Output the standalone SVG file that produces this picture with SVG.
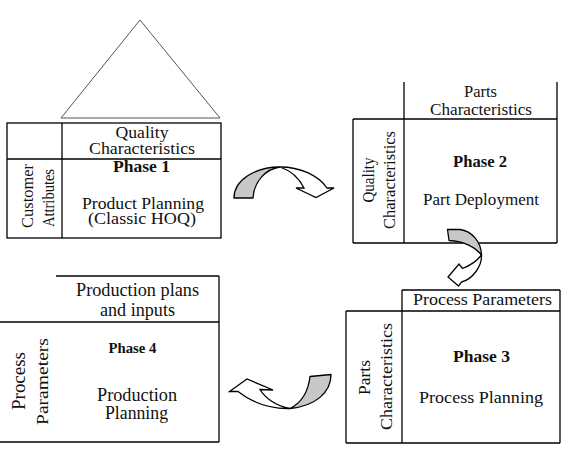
<svg xmlns="http://www.w3.org/2000/svg" width="563" height="450" viewBox="0 0 563 450">
<style>
.ln{stroke:#000;stroke-width:1.3;fill:none}
.t{font-family:"Liberation Serif","Times New Roman",serif;fill:#111;text-anchor:middle}
.b{font-weight:bold}
.back{fill:#c8c8c8;stroke:#000;stroke-width:1.3;stroke-linejoin:round}
.front{fill:#fff;stroke:#000;stroke-width:1.3;stroke-linejoin:miter}
</style>
<rect width="563" height="450" fill="#fff"/>
<g id="roof">
<polygon points="140,20 61,118 220,118" fill="none" stroke="#555" stroke-width="1"/>
</g>
<g id="phase1">
<rect x="7" y="123" width="214" height="115" class="ln"/>
<line x1="62" y1="123" x2="62" y2="238" class="ln"/>
<line x1="7" y1="159" x2="221" y2="159" class="ln"/>
<text class="t" x="142" y="137.5" font-size="16" textLength="53" lengthAdjust="spacingAndGlyphs">Quality</text>
<text class="t" x="142" y="154" font-size="16" textLength="106" lengthAdjust="spacingAndGlyphs">Characteristics</text>
<text class="t b" x="141.5" y="172" font-size="16" textLength="57" lengthAdjust="spacingAndGlyphs">Phase 1</text>
<text class="t" x="143" y="209" font-size="16" textLength="122" lengthAdjust="spacingAndGlyphs">Product Planning</text>
<text class="t" x="142" y="224" font-size="16" textLength="108" lengthAdjust="spacingAndGlyphs">(Classic HOQ)</text>
<text class="t" transform="translate(33,196) rotate(-90)" font-size="17" textLength="64" lengthAdjust="spacingAndGlyphs">Customer</text>
<text class="t" transform="translate(54,198) rotate(-90)" font-size="16" textLength="58" lengthAdjust="spacingAndGlyphs">Attributes</text>
</g>
<g id="phase2">
<line x1="404" y1="82" x2="404" y2="243" class="ln"/>
<line x1="557" y1="82" x2="557" y2="243" class="ln"/>
<line x1="353" y1="119" x2="557" y2="119" class="ln"/>
<line x1="353" y1="243" x2="557" y2="243" class="ln"/>
<line x1="353" y1="119" x2="353" y2="243" class="ln"/>
<text class="t" x="480.5" y="97" font-size="17" textLength="33" lengthAdjust="spacingAndGlyphs">Parts</text>
<text class="t" x="481" y="115" font-size="17" textLength="102" lengthAdjust="spacingAndGlyphs">Characteristics</text>
<text class="t b" x="480" y="167" font-size="16" textLength="54" lengthAdjust="spacingAndGlyphs">Phase 2</text>
<text class="t" x="481" y="205" font-size="16.5" textLength="116" lengthAdjust="spacingAndGlyphs">Part Deployment</text>
<text class="t" transform="translate(374,180) rotate(-90)" font-size="16" textLength="45" lengthAdjust="spacingAndGlyphs">Quality</text>
<text class="t" transform="translate(395,180) rotate(-90)" font-size="16" textLength="98" lengthAdjust="spacingAndGlyphs">Characteristics</text>
</g>
<g id="phase3">
<line x1="402" y1="290" x2="560" y2="290" class="ln"/>
<line x1="560" y1="290" x2="560" y2="443" class="ln"/>
<line x1="346" y1="311" x2="560" y2="311" class="ln"/>
<line x1="346" y1="311" x2="346" y2="443" class="ln"/>
<line x1="346" y1="443" x2="560" y2="443" class="ln"/>
<line x1="402" y1="290" x2="402" y2="443" class="ln"/>
<text class="t" x="482.5" y="305" font-size="17" textLength="139" lengthAdjust="spacingAndGlyphs">Process Parameters</text>
<text class="t b" x="481.5" y="362" font-size="16" textLength="57" lengthAdjust="spacingAndGlyphs">Phase 3</text>
<text class="t" x="481" y="403" font-size="17.5" textLength="124" lengthAdjust="spacingAndGlyphs">Process Planning</text>
<text class="t" transform="translate(370,377.5) rotate(-90)" font-size="17.5" textLength="35" lengthAdjust="spacingAndGlyphs">Parts</text>
<text class="t" transform="translate(391.5,376.5) rotate(-90)" font-size="17.5" textLength="107" lengthAdjust="spacingAndGlyphs">Characteristics</text>
</g>
<g id="phase4">
<line x1="56" y1="276" x2="219" y2="276" class="ln"/>
<line x1="219" y1="276" x2="219" y2="442" class="ln"/>
<line x1="0" y1="322" x2="219" y2="322" class="ln"/>
<line x1="0" y1="442" x2="219" y2="442" class="ln"/>
<text class="t" x="137.5" y="296" font-size="18" textLength="123" lengthAdjust="spacingAndGlyphs">Production plans</text>
<text class="t" x="137.5" y="316" font-size="18" textLength="75" lengthAdjust="spacingAndGlyphs">and inputs</text>
<text class="t b" x="132.5" y="353" font-size="15" textLength="48" lengthAdjust="spacingAndGlyphs">Phase 4</text>
<text class="t" x="137" y="401" font-size="18" textLength="80" lengthAdjust="spacingAndGlyphs">Production</text>
<text class="t" x="136.5" y="419" font-size="18" textLength="63" lengthAdjust="spacingAndGlyphs">Planning</text>
<text class="t" transform="translate(25,381) rotate(-90)" font-size="19" textLength="58" lengthAdjust="spacingAndGlyphs">Process</text>
<text class="t" transform="translate(48,381.5) rotate(-90)" font-size="17" textLength="87" lengthAdjust="spacingAndGlyphs">Parameters</text>
</g>
<g id="connectors">
<g id="arrow1">
<path class="back" d="M234,198 C234,180 255,167 280,167 C266,169 254,181 253,198 Z"/>
<path class="front" d="M280,167 C300,167 318,175 327,188 L334,188 L316,197.5 L296,188 L304,188 C300,180 292,171 280,167 Z"/>
</g>
<g id="arrow2">
<path class="back" d="M447.5,229.5 L460,229.5 C472,231 481,242 481.5,255 C476,248 465,241 449,240.5 Z"/>
<path class="front" d="M481.5,255 C482,266 473,279 461.5,282 L458.5,286 L448,277 L459,264 L462.5,268.5 C469,266 476,262 481.5,255 Z"/>
</g>
<g id="arrow3">
<path class="back" d="M310,376.5 L331,374.5 C331,392 316,406 290,408.5 C299,404 308,394 310,376.5 Z"/>
<path class="front" d="M290,408.5 C268,409 250,401 238,391.5 L229.5,391.5 L247,379 L273,390 L260,389.5 C265,398 276,406 290,408.5 Z"/>
</g>
</g>
</svg>
